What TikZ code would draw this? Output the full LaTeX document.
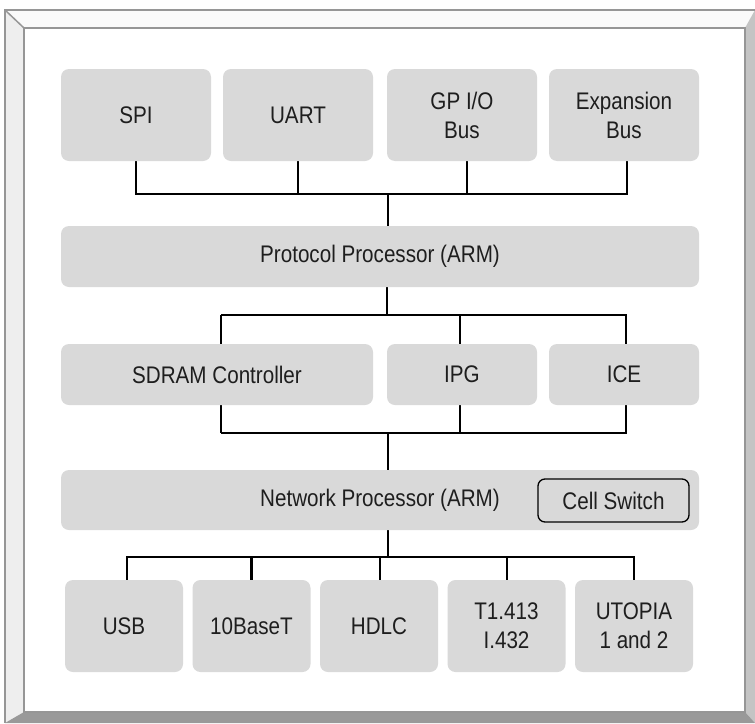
\documentclass[tikz,border=0pt]{standalone}
\usepackage{fontspec}
\setmainfont[FakeStretch=0.86]{Liberation Sans}
\definecolor{boxgray}{RGB}{217,217,217}
\definecolor{framegray}{RGB}{150,150,150}
\definecolor{bevtop}{RGB}{250,250,250}
\definecolor{bevleft}{RGB}{238,238,238}
\definecolor{bevright}{RGB}{196,196,196}
\definecolor{bevbottom}{RGB}{153,153,153}
\definecolor{txt}{RGB}{30,30,30}
\pgfdeclarelayer{bg}
\pgfdeclarelayer{frame}
\pgfsetlayers{frame,bg,main}
\begin{document}
\begin{tikzpicture}[x=1pt,y=-1pt,
  blk/.style={fill=boxgray, rounded corners=8pt, inner sep=0pt,
    font=\fontsize{24}{29}\selectfont, text=txt, align=center},
  topbox/.style={blk, minimum width=150pt, minimum height=92pt},
  midbox/.style={blk, minimum height=61pt},
  botbox/.style={blk, minimum width=118pt, minimum height=92pt},
  conn/.style={line width=2.8pt, black}]
\useasboundingbox (0,0) rectangle (755,723);
\begin{pgfonlayer}{frame}
\fill[white] (0,0) rectangle (755,723);
\fill[bevtop] (5,10) -- (755,10) -- (745,28) -- (24,28) -- cycle;
\fill[bevleft] (5,10) -- (24,28) -- (24,712) -- (5,723) -- cycle;
\fill[bevright] (755,10) -- (755,723) -- (745,712) -- (745,28) -- cycle;
\fill[bevbottom] (5,723) -- (755,723) -- (745,712) -- (24,712) -- cycle;
\draw[framegray, line width=2pt] (755,10) -- (5,10) -- (5,723);
\draw[framegray, line width=1.5pt] (5,10) -- (24,28);
\draw[framegray, line width=2.2pt] (24,28) rectangle (745,712);
\end{pgfonlayer}
% top row
\node[topbox] (spi)  at (136,115) {SPI};
\node[topbox] (uart) at (298,115) {UART};
\node[topbox] (gpio) at (462,115) {GP I/O\\Bus};
\node[topbox] (exp)  at (624,115) {Expansion\\Bus};
% processors and middle row
\node[midbox, minimum width=638pt] (proto) at (380,256.5) {Protocol Processor (ARM)};
\node[midbox, minimum width=312pt] (sdram) at (217,374.5) {SDRAM Controller};
\node[midbox, minimum width=150pt] (ipg)   at (462,374.5) {IPG};
\node[midbox, minimum width=150pt] (ice)   at (624,374.5) {ICE};
\node[blk, minimum width=638pt, minimum height=60pt] (net) at (380,500) {Network Processor (ARM)};
\node[blk, draw=black, line width=1.3pt, rounded corners=7pt, minimum width=151pt, minimum height=43pt] (cell) at (613.5,500.5) {Cell Switch};
% bottom row
\node[botbox] (usb)  at (124,626) {USB};
\node[botbox] (tenb) at (251.5,626) {10BaseT};
\node[botbox] (hdlc) at (379,626) {HDLC};
\node[botbox] (tone) at (506.5,626) {T1.413\\I.432};
\node[botbox] (utop) at (634,626) {UTOPIA\\1 and 2};
% bus coordinates
\coordinate (b1) at (388,194);
\coordinate (b2) at (387,315);
\coordinate (b3) at (388,433);
\coordinate (b4) at (388,557);
\begin{pgfonlayer}{bg}
% top bus
\draw[conn] (spi.south) -- (spi.south |- b1) -| ([xshift=3pt]exp.south);
\draw[conn] (uart.south) -- (uart.south |- b1);
\draw[conn] ([xshift=5pt]gpio.south) -- ([xshift=5pt]gpio.south |- b1);
\draw[conn] (b1) -- (b1 |- proto.north);
% middle bus
\draw[conn] (b2 |- proto.south) -- (b2);
\draw[conn] ([xshift=4pt]sdram.north |- b2) -| ([xshift=2pt]ice.north);
\draw[conn] ([xshift=4pt]sdram.north |- b2) -- ([xshift=4pt]sdram.south |- b3);
\draw[conn] ([xshift=-2pt]ipg.north |- b2) -- ([xshift=-2pt]ipg.south |- b3);
\draw[conn] ([xshift=2pt]ice.south) -- ([xshift=2pt]ice.south |- b3) -- ([xshift=4pt]sdram.south |- b3);
\draw[conn] (b3) -- (b3 |- net.north);
% bottom bus
\draw[conn] (b4 |- net.south) -- (b4);
\draw[conn] ([xshift=3pt]usb.north) -- ([xshift=3pt]usb.north |- b4) -| (utop.north);
\draw[conn] (tenb.north) -- (tenb.north |- b4);
\draw[conn] ([xshift=1pt]hdlc.north) -- ([xshift=1pt]hdlc.north |- b4);
\draw[conn] ([xshift=0.5pt]tone.north) -- ([xshift=0.5pt]tone.north |- b4);
\end{pgfonlayer}
\end{tikzpicture}
\end{document}
